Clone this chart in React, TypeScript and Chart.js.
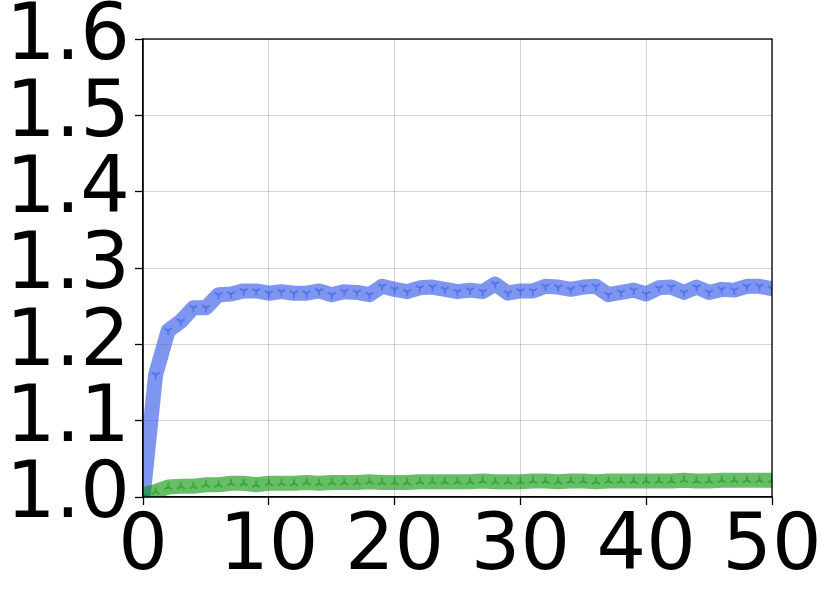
import React, { useEffect, useRef } from "react";
import { Chart, registerables } from "chart.js";

Chart.register(...registerables);

const xValues = Array.from({ length: 51 }, (_, i) => i);

const blueValues = [
  1.0, 1.16, 1.218, 1.23, 1.248, 1.248, 1.265, 1.266, 1.27, 1.27,
  1.267, 1.269, 1.267, 1.267, 1.27, 1.265, 1.269, 1.268, 1.265, 1.276,
  1.272, 1.269, 1.274, 1.275, 1.272, 1.269, 1.271, 1.269, 1.279, 1.267,
  1.27, 1.27, 1.276, 1.275, 1.272, 1.275, 1.276, 1.265, 1.268, 1.271,
  1.266, 1.274, 1.275, 1.268, 1.275, 1.268, 1.272, 1.271, 1.276, 1.276,
  1.273,
];

const greenValues = [
  1.003, 1.007, 1.013, 1.014, 1.014, 1.016, 1.016, 1.018, 1.018, 1.016,
  1.018, 1.018, 1.018, 1.019, 1.018, 1.019, 1.019, 1.019, 1.02, 1.019,
  1.019, 1.019, 1.02, 1.02, 1.02, 1.02, 1.02, 1.021, 1.02, 1.02,
  1.02, 1.021, 1.021, 1.02, 1.021, 1.021, 1.02, 1.021, 1.021, 1.021,
  1.021, 1.021, 1.021, 1.022, 1.021, 1.021, 1.022, 1.022, 1.022, 1.022,
  1.022,
];

const yTickLabels = ["1.0", "1.1", "1.2", "1.3", "1.4", "1.5", "1.6"];
const xTickLabels = ["0", "10", "20", "30", "40", "50"];

const blueColor = "rgba(42,80,230,0.6)";
const greenColor = "rgba(3,147,3,0.6)";

function makeTri(color: string, down: boolean): HTMLCanvasElement {
  const c = document.createElement("canvas");
  const s = 12;
  c.width = s;
  c.height = s;
  const ctx = c.getContext("2d")!;
  const cx = s / 2;
  const cy = s / 2;
  const r = 4.5;
  ctx.strokeStyle = color;
  ctx.lineWidth = 1.5;
  ctx.beginPath();
  const sgn = down ? 1 : -1;
  ctx.moveTo(cx, cy);
  ctx.lineTo(cx, cy + sgn * r);
  ctx.moveTo(cx, cy);
  ctx.lineTo(cx - r * 0.866, cy - sgn * r * 0.5);
  ctx.moveTo(cx, cy);
  ctx.lineTo(cx + r * 0.866, cy - sgn * r * 0.5);
  ctx.stroke();
  return c;
}

const framePlugin = {
  id: "frame",
  afterDraw(chart: any) {
    const { ctx, chartArea } = chart;
    ctx.save();
    ctx.strokeStyle = "#000";
    ctx.lineWidth = 1.3;
    ctx.strokeRect(chartArea.left, chartArea.top, chartArea.right - chartArea.left, chartArea.bottom - chartArea.top);
    ctx.restore();
  },
};

export default function App() {
  const ref = useRef<HTMLCanvasElement | null>(null);
  useEffect(() => {
    document.body.style.margin = "0";
    const blueTri = makeTri(blueColor, true);
    const greenTri = makeTri(greenColor, false);
    const font = { family: "DejaVu Sans", size: 78 };
    const chart = new Chart(ref.current!, {
      type: "line",
      data: {
        labels: xValues,
        datasets: [
          {
            data: xValues.map((x, i) => ({ x, y: blueValues[i] })),
            borderColor: blueColor,
            borderWidth: 15,
            pointStyle: blueTri as any,
            pointRadius: 5,
            tension: 0,
            clip: 0 as any,
            borderJoinStyle: "round",
            borderCapStyle: "round",
            order: 1,
          },
          {
            data: xValues.map((x, i) => ({ x, y: greenValues[i] })),
            borderColor: greenColor,
            borderWidth: 15,
            pointStyle: greenTri as any,
            pointRadius: 5,
            tension: 0,
            clip: 0 as any,
            borderJoinStyle: "round",
            borderCapStyle: "round",
            order: 0,
          },
        ],
      },
      options: {
        animation: false,
        responsive: false,
        events: [],
        layout: { padding: { top: 39, right: 59, left: 0, bottom: 0 } },
        plugins: { legend: { display: false }, tooltip: { enabled: false } },
        scales: {
          x: {
            type: "linear",
            min: 0,
            max: 50,
            afterBuildTicks: (s: any) => {
              s.ticks = xTickLabels.map((t) => ({ value: Number(t) }));
            },
            ticks: {
              font,
              color: "#000",
              padding: -3,
              maxRotation: 0,
              autoSkip: false,
              callback: (v: any) => String(v),
            },
            grid: { color: "rgba(0,0,0,0.17)", lineWidth: 1, tickLength: 8, tickColor: "#000", tickWidth: 1.3 },
            border: { color: "#000", width: 1.3 },
            afterFit: (s: any) => {
              s.height = 106;
              s.paddingLeft = 0;
              s.paddingRight = 0;
            },
          },
          y: {
            type: "linear",
            min: 1.0,
            max: 1.6,
            afterBuildTicks: (s: any) => {
              s.ticks = yTickLabels.map((t) => ({ value: Number(t) }));
            },
            ticks: {
              font,
              color: "#000",
              padding: 5,
              autoSkip: false,
              callback: (v: any) => Number(v).toFixed(1),
            },
            grid: { color: "rgba(0,0,0,0.17)", lineWidth: 1, tickLength: 8, tickColor: "#000", tickWidth: 1.3 },
            border: { color: "#000", width: 1.3 },
            afterFit: (s: any) => {
              s.width = 143;
              s.paddingTop = 0;
              s.paddingBottom = 0;
            },
          },
        },
      },
      plugins: [framePlugin],
    });
    return () => chart.destroy();
  }, []);
  return (
    <div style={{ width: 831, height: 603 }}>
      <canvas ref={ref} width={831} height={603} style={{ display: "block" }} />
    </div>
  );
}
